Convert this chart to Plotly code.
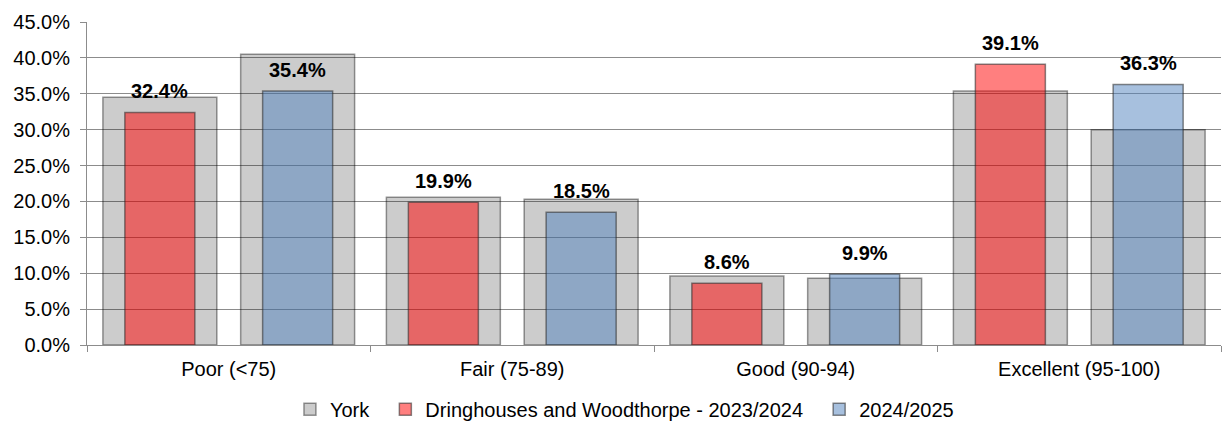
import plotly.graph_objects as go

# Score bands and shares (%) for York and Dringhouses and Woodthorpe
categories = ["Poor (<75)", "Fair (75-89)", "Good (90-94)", "Excellent (95-100)"]
york_2324 = [34.5, 20.6, 9.6, 35.4]
york_2425 = [40.5, 20.3, 9.3, 30.0]
dw_2324 = [32.4, 19.9, 8.6, 39.1]
dw_2425 = [35.4, 18.5, 9.9, 36.3]
y_ticks = [0, 5, 10, 15, 20, 25, 30, 35, 40, 45]
y_tick_text = [f"{v:.1f}%" for v in y_ticks]

FONT = "Liberation Sans, Arial, sans-serif"
OFFSET = 0.243          # distance of each year's bar from the band centre
WIDE = 0.402            # York bar width
NARROW = 0.247          # ward bar width
OUTLINE = "rgba(40,40,40,0.55)"
PAD = "\u00a0\u00a0"    # extra room after a legend entry

idx = list(range(len(categories)))
left = [i - OFFSET for i in idx]
right = [i + OFFSET for i in idx]

fig = go.Figure()

fig.add_trace(go.Bar(
    x=left, y=york_2324, width=WIDE, name="York" + PAD, legendgroup="york",
    marker=dict(color="rgba(0,0,0,0.2)", line=dict(color="rgba(0,0,0,0.4)", width=1.5)),
    hoverinfo="skip",
))
fig.add_trace(go.Bar(
    x=right, y=york_2425, width=WIDE, name="York", legendgroup="york", showlegend=False,
    marker=dict(color="rgba(0,0,0,0.2)", line=dict(color="rgba(0,0,0,0.4)", width=1.5)),
    hoverinfo="skip",
))
fig.add_trace(go.Bar(
    x=left, y=dw_2324, width=NARROW, name="Dringhouses and Woodthorpe - 2023/2024" + PAD,
    marker=dict(color="rgba(255,0,0,0.5)", line=dict(color=OUTLINE, width=1.5)),
))
fig.add_trace(go.Bar(
    x=right, y=dw_2425, width=NARROW, name="2024/2025",
    marker=dict(color="rgba(79,129,189,0.5)", line=dict(color=OUTLINE, width=1.5)),
))

# Value labels above the ward bars
for xs, vals in ((left, dw_2324), (right, dw_2425)):
    for x, v in zip(xs, vals):
        fig.add_annotation(
            x=x, y=v, text=f"{v:.1f}%", showarrow=False,
            yanchor="bottom", yshift=8,
            font=dict(family=FONT, size=20, color="#000000", weight="bold"),
        )

fig.update_layout(
    width=1222, height=421,
    margin=dict(l=87, r=1, t=22, b=76),
    barmode="overlay",
    plot_bgcolor="white", paper_bgcolor="white",
    font=dict(family=FONT, size=20, color="#000000"),
    showlegend=True,
    legend=dict(
        orientation="h", xref="container", yref="container",
        x=0.511, xanchor="center", y=0.028, yanchor="middle",
        font=dict(family=FONT, size=20, color="#000000"),
        itemwidth=30, traceorder="normal",
    ),
)

fig.update_xaxes(
    range=[-0.5, len(categories) - 0.5],
    tickvals=idx, ticktext=categories, ticks="", showgrid=False,
    showline=True, linecolor="#8C8C8C", linewidth=1,
    tickfont=dict(family=FONT, size=20, color="#000000"),
    ticklabelstandoff=6,
    minor=dict(tickvals=[i - 0.5 for i in range(len(categories) + 1)],
               ticks="outside", ticklen=6, tickcolor="#8C8C8C", showgrid=False),
    zeroline=False,
)
fig.update_yaxes(
    range=[0, 45], tickvals=y_ticks, ticktext=y_tick_text,
    showgrid=True, gridcolor="#8C8C8C", gridwidth=1,
    showline=True, linecolor="#8C8C8C", linewidth=1,
    ticks="outside", ticklen=6, tickcolor="#8C8C8C",
    tickfont=dict(family=FONT, size=20, color="#000000"),
    ticklabelstandoff=6,
    zeroline=False,
)

fig.write_html("out.html")
